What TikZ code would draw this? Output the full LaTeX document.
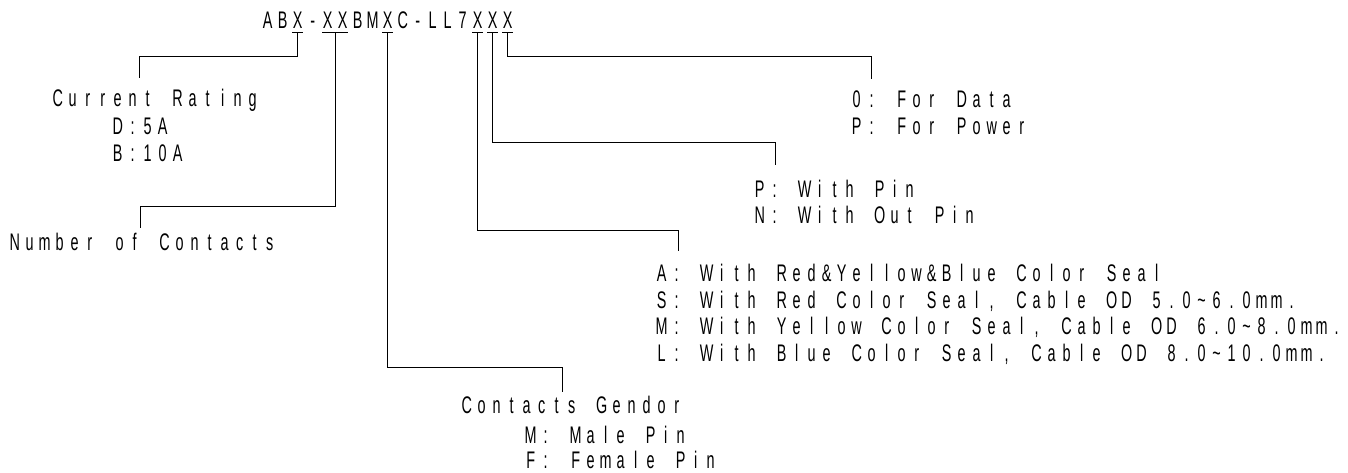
\documentclass[tikz,border=0pt]{standalone}
\usepackage{fontspec}
\setmainfont{Liberation Sans}[FakeStretch=0.6]
\ExplSyntaxOn
\NewDocumentCommand\mono{m}{\str_map_inline:nn {#1} {\makebox[15pt][c]{##1}}}
\ExplSyntaxOff
\begin{document}
\begin{tikzpicture}[x=1pt,y=-1pt,
  lbl/.style={anchor=base west,inner sep=0pt,font=\fontsize{24}{28}\selectfont},
  leader/.style={draw=black,line width=1pt},
  uline/.style={draw=black,line width=1pt}]
\useasboundingbox (0,0) rectangle (1348,473);
% part number
\node[lbl] (pn) at (260,29) {\mono{ABX-XXBMXC-LL7XXX}};
% underline marks
\coordinate (u1) at (297.5,33);
\coordinate (u2) at (335,33);
\coordinate (u3) at (387.5,33);
\coordinate (u4) at (477.5,33);
\coordinate (u5) at (492.5,33);
\coordinate (u6) at (507.5,33);
\draw[uline] (292,33) -- (303,33);
\draw[uline] (322,33) -- (348,33);
\draw[uline] (382,33) -- (393,33);
\draw[uline] (472,33) -- (483,33);
\draw[uline] (487,33) -- (498,33);
\draw[uline] (502,33) -- (513,33);
% descriptions
\node[lbl] (cr) at (50,107) {\mono{Current Rating}};
\node[lbl] (cr1) at (110,135) {\mono{D:5A}};
\node[lbl] (cr2) at (110,162) {\mono{B:10A}};
\node[lbl] (nc) at (7,250) {\mono{Number of Contacts}};
\node[lbl] (dp1) at (849,108) {\mono{0: For Data}};
\node[lbl] (dp2) at (849,135) {\mono{P: For Power}};
\node[lbl] (wp1) at (752,197) {\mono{P: With Pin}};
\node[lbl] (wp2) at (752,223) {\mono{N: With Out Pin}};
\node[lbl] (cs1) at (654,281) {\mono{A: With Red&Yellow&Blue Color Seal}};
\node[lbl] (cs2) at (654,308) {\mono{S: With Red Color Seal, Cable OD 5.0~6.0mm.}};
\node[lbl] (cs3) at (654,334) {\mono{M: With Yellow Color Seal, Cable OD 6.0~8.0mm.}};
\node[lbl] (cs4) at (654,361) {\mono{L: With Blue Color Seal, Cable OD 8.0~10.0mm.}};
\node[lbl] (cg) at (459,413) {\mono{Contacts Gendor}};
\node[lbl] (cg1) at (523,443) {\mono{M: Male Pin}};
\node[lbl] (cg2) at (523,468) {\mono{F: Female Pin}};
% leader end points
\coordinate (e1) at (139,78);
\coordinate (e2) at (140,228);
\coordinate (e3) at (562,392);
\coordinate (e4) at (678,251);
\coordinate (e5) at (775,165);
\coordinate (e6) at (871,79);
% leaders
\draw[leader] (u1) |- (e1|-0,57) -- (e1);
\draw[leader] (u2) |- (e2|-0,206) -- (e2);
\draw[leader] (u3) |- (e3|-0,367) -- (e3);
\draw[leader] (u4) |- (e4|-0,230) -- (e4);
\draw[leader] (u5) |- (e5|-0,143) -- (e5);
\draw[leader] (u6) |- (e6|-0,57) -- (e6);
\end{tikzpicture}
\end{document}
